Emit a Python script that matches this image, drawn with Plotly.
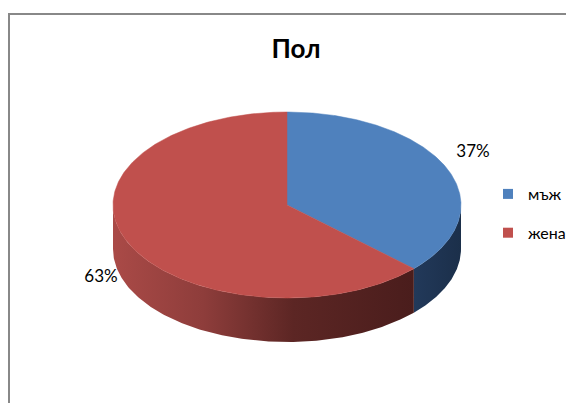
import numpy as np
import plotly.graph_objects as go

# ---- data ----
title_text = "Пол"
categories = ["мъж", "жена"]
values = [37, 63]
colors = ["#4F81BD", "#C0504D"]
wall_colors = [
    [[0, "#22395A"], [1, "#1B2F4A"]],
    [[0, "#AA4A47"], [0.3, "#8E3D3B"], [0.6, "#5C2624"], [1, "#4A1D1C"]],
]

# ---- geometry / style ----
W, H = 574, 403
OFF = 8  # page body margin offset of the figure
CX, CY = 287, 205
RX, RY = 174, 93
DEPTH = 44
FONT = "Lato, Open Sans, sans-serif"

total = float(sum(values))
fracs = [v / total for v in values]
starts = np.cumsum([0] + fracs[:-1])
ends = np.cumsum(fracs)


def pt(theta_deg, dy=0.0):
    t = np.radians(theta_deg)
    return CX + RX * np.sin(t), CY - RY * np.cos(t) + dy


def px(x):
    return (x - OFF) / W


def py(y):
    return 1 - (y - OFF) / H


fig = go.Figure()

# side walls (visible front half: 90deg .. 270deg clockwise from top)
for i, (s, e) in enumerate(zip(starts, ends)):
    a0, a1 = max(s * 360, 90), min(e * 360, 270)
    if a1 <= a0:
        continue
    th = np.linspace(a0, a1, 200)
    xt, yt = pt(th)
    xb, yb = pt(th[::-1], DEPTH)
    xs = np.concatenate([xt, xb, xt[:1]])
    ys = np.concatenate([yt, yb, yt[:1]])
    fig.add_trace(go.Scatter(
        x=xs, y=ys, mode="lines", fill="toself",
        line=dict(width=0, color=colors[i]),
        fillgradient=dict(type="horizontal", colorscale=wall_colors[i]),
        showlegend=False, hoverinfo="skip"))

# top faces
for i, (s, e) in enumerate(zip(starts, ends)):
    th = np.linspace(s * 360, e * 360, 300)
    xa, ya = pt(th)
    xs = np.concatenate([[CX], xa, [CX]])
    ys = np.concatenate([[CY], ya, [CY]])
    fig.add_trace(go.Scatter(
        x=xs, y=ys, mode="lines", fill="toself",
        line=dict(width=0.5, color=colors[i]), fillcolor=colors[i],
        showlegend=False, hoverinfo="skip"))

# percentage labels (outside the pie, aligned away from it)
for i, (s, e) in enumerate(zip(starts, ends)):
    mid = np.radians((s + e) / 2 * 360)
    lx = CX + RX * 1.06 * np.sin(mid)
    ly = CY - RY * 1.42 * np.cos(mid) + (DEPTH * 0.45 if np.cos(mid) < 0 else 0)
    fig.add_trace(go.Scatter(
        x=[lx], y=[ly], mode="text", text=[f"{round(fracs[i] * 100)}%"],
        textposition="middle right" if np.sin(mid) >= 0 else "middle left",
        textfont=dict(family=FONT, size=17, color="#000000"),
        showlegend=False, hoverinfo="skip"))

# legend entries
for i, cat in enumerate(categories):
    fig.add_trace(go.Scatter(
        x=[None], y=[None], mode="markers", name=cat, legendgroup=cat,
        marker=dict(symbol="square", size=10, color=colors[i])))

fig.add_shape(type="rect", xref="paper", yref="paper",
              x0=px(9), x1=1.2, y0=-0.2, y1=py(14),
              line=dict(color="#888888", width=2), layer="below")

fig.update_layout(
    width=W, height=H,
    margin=dict(l=0, r=0, t=0, b=0),
    paper_bgcolor="white", plot_bgcolor="white",
    title=dict(text=f"<b>{title_text}</b>", x=px(296), xanchor="center",
               y=py(49), yanchor="middle",
               font=dict(family=FONT, size=26, color="#000000")),
    xaxis=dict(range=[OFF, W + OFF], visible=False, fixedrange=True),
    yaxis=dict(range=[H + OFF, OFF], visible=False, fixedrange=True),
    legend=dict(x=px(488), y=py(177), xanchor="left", yanchor="top",
                font=dict(family=FONT, size=16, color="#000000"),
                tracegroupgap=15, itemwidth=30, bgcolor="rgba(0,0,0,0)"),
    showlegend=True,
)

fig.write_html("out.html")
